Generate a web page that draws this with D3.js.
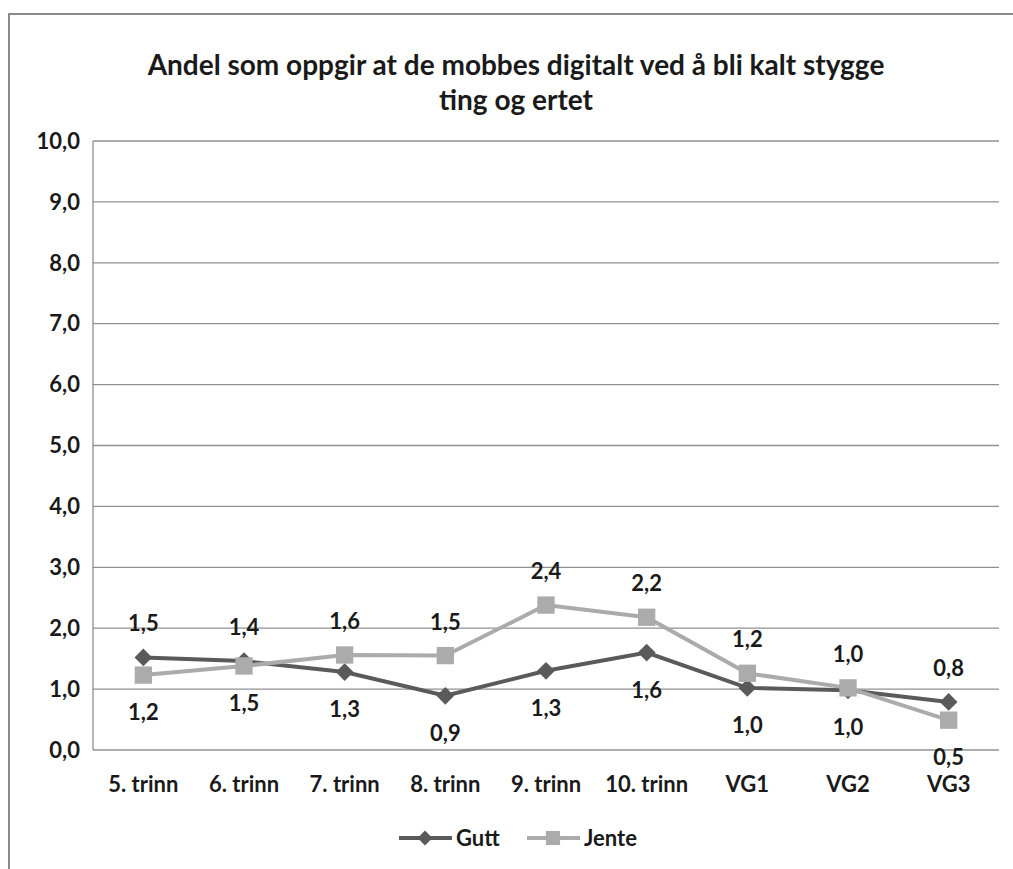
<!DOCTYPE html>
<html>
<head>
<meta charset="utf-8">
<script src="https://cdn.jsdelivr.net/npm/d3@7"></script>
<style>
  body { margin: 0; background: #fff; }
  text { font-family: Lato, "Open Sans", sans-serif; font-weight: bold; fill: #1a1a1a; }
</style>
</head>
<body>
<div id="graph"></div>
<script>
// chart data
var categories = ["5. trinn", "6. trinn", "7. trinn", "8. trinn", "9. trinn", "10. trinn", "VG1", "VG2", "VG3"];
var gutt = [1.52, 1.46, 1.28, 0.89, 1.30, 1.60, 1.02, 0.98, 0.79];
var jente = [1.23, 1.38, 1.56, 1.55, 2.38, 2.18, 1.26, 1.02, 0.49];
// the labels as printed on the chart
var guttLabels = ["1,5", "1,4", "1,3", "0,9", "1,3", "1,6", "1,0", "1,0", "0,8"];
var jenteLabels = ["1,2", "1,5", "1,6", "1,5", "2,4", "2,2", "1,2", "1,0", "0,5"];
var yTicks = [0, 1, 2, 3, 4, 5, 6, 7, 8, 9, 10];
var title = ["Andel som oppgir at de mobbes digitalt ved å bli kalt stygge", "ting og ertet"];

var W = 1013, H = 869;
var margin = {top: 141, right: 14, bottom: 119, left: 93},
    width = W - margin.left - margin.right,
    height = H - margin.top - margin.bottom;

var svg = d3.select("#graph").append("svg")
    .attr("width", W)
    .attr("height", H);

// outer frame (only top and left edges are visible in the picture)
svg.append("path")
    .attr("d", "M9," + H + " V14 H" + W)
    .attr("fill", "none")
    .attr("stroke", "#8a8a8a")
    .attr("stroke-width", 2);

// title
svg.append("text")
    .attr("text-anchor", "middle")
    .attr("x", 516)
    .style("font-size", "28px")
  .selectAll("tspan")
    .data(title)
  .enter().append("tspan")
    .attr("x", 516)
    .attr("y", function(d, i){ return 75 + i * 35; })
    .text(function(d){ return d; });

var g = svg.append("g")
    .attr("transform", "translate(" + margin.left + "," + margin.top + ")");

var x = d3.scalePoint().domain(categories).range([0, width]).padding(0.5);
var y = d3.scaleLinear().domain([0, 10]).range([height, 0]);

// gridlines + y labels
g.selectAll(".grid")
    .data(yTicks)
  .enter().append("line")
    .attr("x1", 0).attr("x2", width)
    .attr("y1", function(d){ return y(d); })
    .attr("y2", function(d){ return y(d); })
    .attr("stroke", "#909090")
    .attr("stroke-width", 1.3);

g.append("line")
    .attr("x1", 0).attr("x2", 0)
    .attr("y1", 0).attr("y2", height)
    .attr("stroke", "#909090")
    .attr("stroke-width", 1.3);

g.selectAll(".ylab")
    .data(yTicks)
  .enter().append("text")
    .attr("x", -13)
    .attr("y", function(d){ return y(d); })
    .attr("dy", "0.35em")
    .attr("text-anchor", "end")
    .style("font-size", "22px")
    .text(function(d){ return d3.format(".1f")(d).replace(".", ","); });

g.selectAll(".xlab")
    .data(categories)
  .enter().append("text")
    .attr("x", function(d){ return x(d); })
    .attr("y", height + 42)
    .attr("text-anchor", "middle")
    .style("font-size", "22px")
    .text(function(d){ return d; });

var series = [
  {name: "Gutt", values: gutt, labels: guttLabels, other: jente, color: "#5a5a5a", shape: "diamond"},
  {name: "Jente", values: jente, labels: jenteLabels, other: gutt, color: "#ababab", shape: "square"}
];

var line = d3.line()
    .x(function(d, i){ return x(categories[i]); })
    .y(function(d){ return y(d); });

series.forEach(function(s){
  g.append("path")
      .datum(s.values)
      .attr("fill", "none")
      .attr("stroke", s.color)
      .attr("stroke-width", 4)
      .attr("d", line);
});

function marker(shape, big){
  return shape === "square"
    ? d3.symbol().type(d3.symbolSquare).size(big ? 300 : 200)()
    : d3.symbol().type(d3.symbolDiamond2).size(big ? 200 : 140)();
}

series.forEach(function(s){
  g.selectAll(".m-" + s.name)
      .data(s.values)
    .enter().append("path")
      .attr("d", marker(s.shape, true))
      .attr("transform", function(d, i){
        return "translate(" + x(categories[i]) + "," + y(d) + ")";
      })
      .attr("fill", s.color);
});

// data labels: above for the higher series, below for the lower one
series.forEach(function(s){
  g.selectAll(".l-" + s.name)
      .data(s.values)
    .enter().append("text")
      .attr("x", function(d, i){ return x(categories[i]); })
      .attr("y", function(d, i){
        return d >= s.other[i] ? y(d) - 26 : y(d) + 45;
      })
      .attr("text-anchor", "middle")
      .style("font-size", "22px")
      .text(function(d, i){ return s.labels[i]; });
});

// legend
var legend = svg.append("g").attr("transform", "translate(0,838)");
var legItems = [
  {name: "Gutt", x0: 399, color: "#5a5a5a", shape: "diamond"},
  {name: "Jente", x0: 527, color: "#ababab", shape: "square"}
];
legItems.forEach(function(it){
  legend.append("line")
      .attr("x1", it.x0).attr("x2", it.x0 + 53)
      .attr("y1", 0).attr("y2", 0)
      .attr("stroke", it.color)
      .attr("stroke-width", 4);
  legend.append("path")
      .attr("d", marker(it.shape, false))
      .attr("transform", "translate(" + (it.x0 + 26) + ",0)")
      .attr("fill", it.color);
  legend.append("text")
      .attr("x", it.x0 + 57)
      .attr("y", 0)
      .attr("dy", "0.35em")
      .style("font-size", "22px")
      .text(it.name);
});
</script>
</body>
</html>
